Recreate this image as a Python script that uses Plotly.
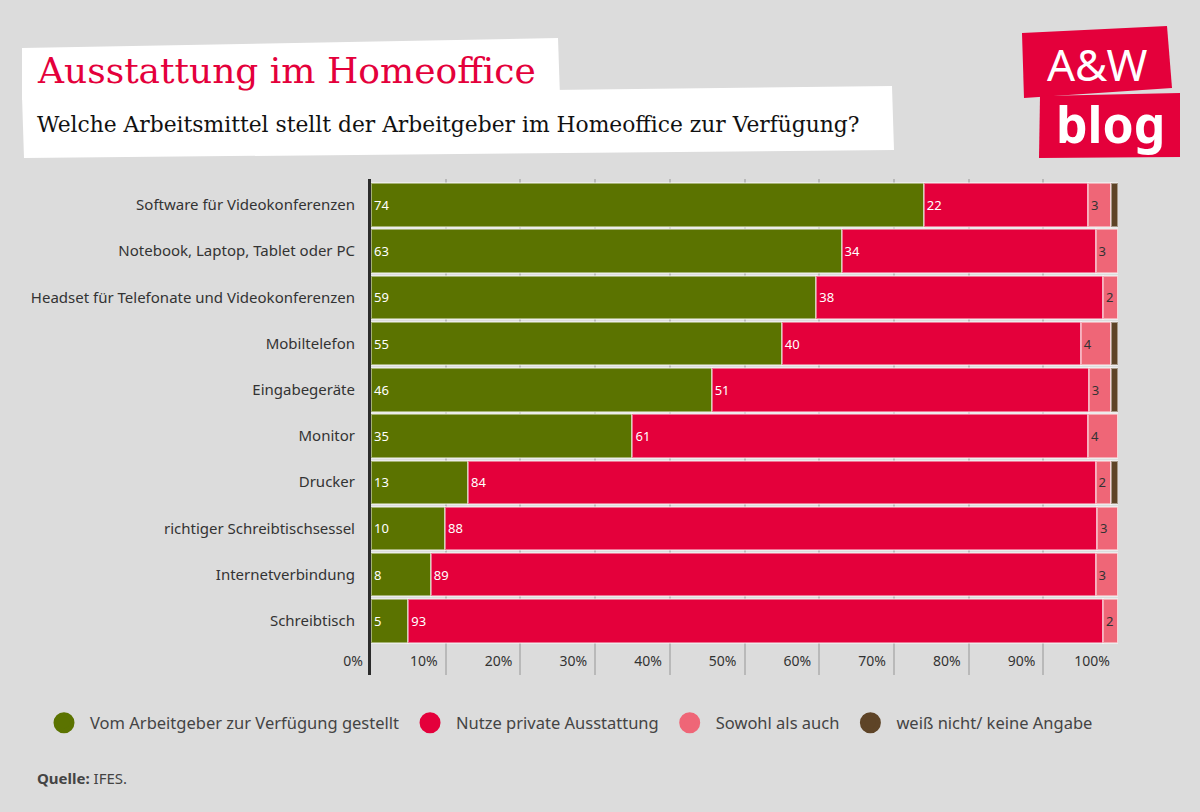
import plotly.graph_objects as go

categories = [
    "Software für Videokonferenzen",
    "Notebook, Laptop, Tablet oder PC",
    "Headset für Telefonate und Videokonferenzen",
    "Mobiltelefon",
    "Eingabegeräte",
    "Monitor",
    "Drucker",
    "richtiger Schreibtischsessel",
    "Internetverbindung",
    "Schreibtisch",
]
series_names = [
    "Vom Arbeitgeber zur Verfügung gestellt",
    "Nutze private Ausstattung",
    "Sowohl als auch",
    "weiß nicht/ keine Angabe",
]
arbeitgeber = [74, 63, 59.6, 55, 45.6, 35, 13, 9.9, 8, 5]
privat = [22, 34, 38.4, 40, 50.5, 61, 84, 87.3, 89, 93]
beides = [3, 3, 2.0, 4, 3, 4, 2, 2.8, 3, 2]
weiss_nicht = [1, 0, 0, 1, 0.9, 0, 1, 0, 0, 0]

label_arbeitgeber = ["74", "63", "59", "55", "46", "35", "13", "10", "8", "5"]
label_privat = ["22", "34", "38", "40", "51", "61", "84", "88", "89", "93"]
label_beides = ["3", "3", "2", "4", "3", "4", "2", "3", "3", "2"]

x_ticks = [0, 10, 20, 30, 40, 50, 60, 70, 80, 90, 100]
x_ticktext = ["0%", "10%", "20%", "30%", "40%", "50%", "60%", "70%", "80%", "90%", "100%"]

colors = ["#5b7300", "#e4003b", "#ef6677", "#5e4427"]
BG = "#dcdcdc"

W, H = 1200, 812
L, R, T, B = 371, 1118, 179, 675


def px(x):
    return (x - L) / (R - L)


def py(y):
    return (B - y) / (B - T)


fig = go.Figure()
values = [arbeitgeber, privat, beides, weiss_nicht]
labels = [label_arbeitgeber, label_privat, label_beides, None]
txtcol = ["white", "white", "#333333", "white"]
for name, vals, lab, col, tc in zip(series_names, values, labels, colors, txtcol):
    fig.add_trace(go.Bar(
        y=categories, x=vals, orientation="h", name=name,
        marker=dict(color=col, line=dict(color="rgba(255,255,255,0.45)", width=2)),
        text=lab, textposition="inside" if lab else "none",
        insidetextanchor="start", textangle=0,
        textfont=dict(color=tc, size=13, family="Noto Sans"),
        showlegend=False, hoverinfo="skip",
    ))
# legend entries with round symbols
for name, col in zip(series_names, colors):
    fig.add_trace(go.Scatter(
        x=[None], y=[None], mode="markers", name=name,
        marker=dict(color=col, size=16, symbol="circle", line=dict(color=col, width=5)),
    ))

shapes = []


def quad(pts, color):
    d = "M " + " L ".join(f"{px(a):.5f},{py(b):.5f}" for a, b in pts) + " Z"
    return dict(type="path", xref="paper", yref="paper", path=d,
                fillcolor=color, line=dict(width=0), layer="below")


shapes.append(quad([(22, 48), (558, 38), (560, 97), (22, 100)], "white"))
shapes.append(quad([(22, 96), (892, 86), (894, 150), (24, 158)], "white"))
shapes.append(quad([(1022, 33), (1167, 26), (1172, 88), (1024, 98)], "#e4003b"))
shapes.append(quad([(1040, 96), (1180, 93), (1180, 157), (1039, 158)], "#e4003b"))

annotations = [
    dict(text="Ausstattung im Homeoffice", x=px(35), y=py(71), xref="paper", yref="paper",
         xanchor="left", yanchor="middle", showarrow=False,
         font=dict(family="DejaVu Serif", size=36, color="#e4003b")),
    dict(text="Welche Arbeitsmittel stellt der Arbeitgeber im Homeoffice zur Verfügung?",
         x=px(35), y=py(124), xref="paper", yref="paper",
         xanchor="left", yanchor="middle", showarrow=False,
         font=dict(family="DejaVu Serif", size=21.8, color="#111111")),
    dict(text="A&W", x=px(1097), y=py(64), xref="paper", yref="paper",
         xanchor="center", yanchor="middle", showarrow=False,
         font=dict(family="Noto Sans", size=44, color="white")),
    dict(text="<b>blog</b>", x=px(1110), y=py(124), xref="paper", yref="paper",
         xanchor="center", yanchor="middle", showarrow=False,
         font=dict(family="Noto Sans", size=50, color="white")),
    dict(text="<b>Quelle:</b> IFES.", x=px(35), y=py(778), xref="paper", yref="paper",
         xanchor="left", yanchor="middle", showarrow=False,
         font=dict(family="Noto Sans", size=15, color="#444444")),
]

fig.update_layout(
    width=W, height=H,
    margin=dict(l=L, r=W - R, t=T, b=H - B, pad=0),
    paper_bgcolor=BG, plot_bgcolor=BG,
    barmode="stack", bargap=0.06,
    shapes=shapes, annotations=annotations,
    uniformtext=dict(minsize=13, mode="show"),
    showlegend=True,
    legend=dict(orientation="h", x=px(38), y=py(723), xanchor="left", yanchor="middle",
                traceorder="normal", itemwidth=42,
                font=dict(family="Noto Sans", size=16.5, color="#444444"),
                bgcolor="rgba(0,0,0,0)", itemclick=False),
    font=dict(family="Noto Sans", color="#333333"),
)
fig.update_xaxes(
    range=[0, 100], tickmode="array", tickvals=x_ticks, ticktext=x_ticktext,
    showgrid=True, gridcolor="#b9b9b9", gridwidth=1.5,
    zeroline=False, showline=False,
    ticklabelposition="inside left", ticklabeloverflow="allow", ticklabelshift=-8,
    tickfont=dict(size=14, color="#333333"), fixedrange=True,
)
fig.update_yaxes(
    categoryorder="array", categoryarray=categories,
    range=[len(categories) - 1 + 1.17, -0.56],
    showline=True, linecolor="#2b2b2b", linewidth=3,
    showgrid=False, zeroline=False, ticks="", ticklabelstandoff=10,
    tickfont=dict(size=15, color="#333333"), fixedrange=True,
)

fig.write_html("out.html", config={"displayModeBar": False},
               post_script="document.body.style.margin='0';")
